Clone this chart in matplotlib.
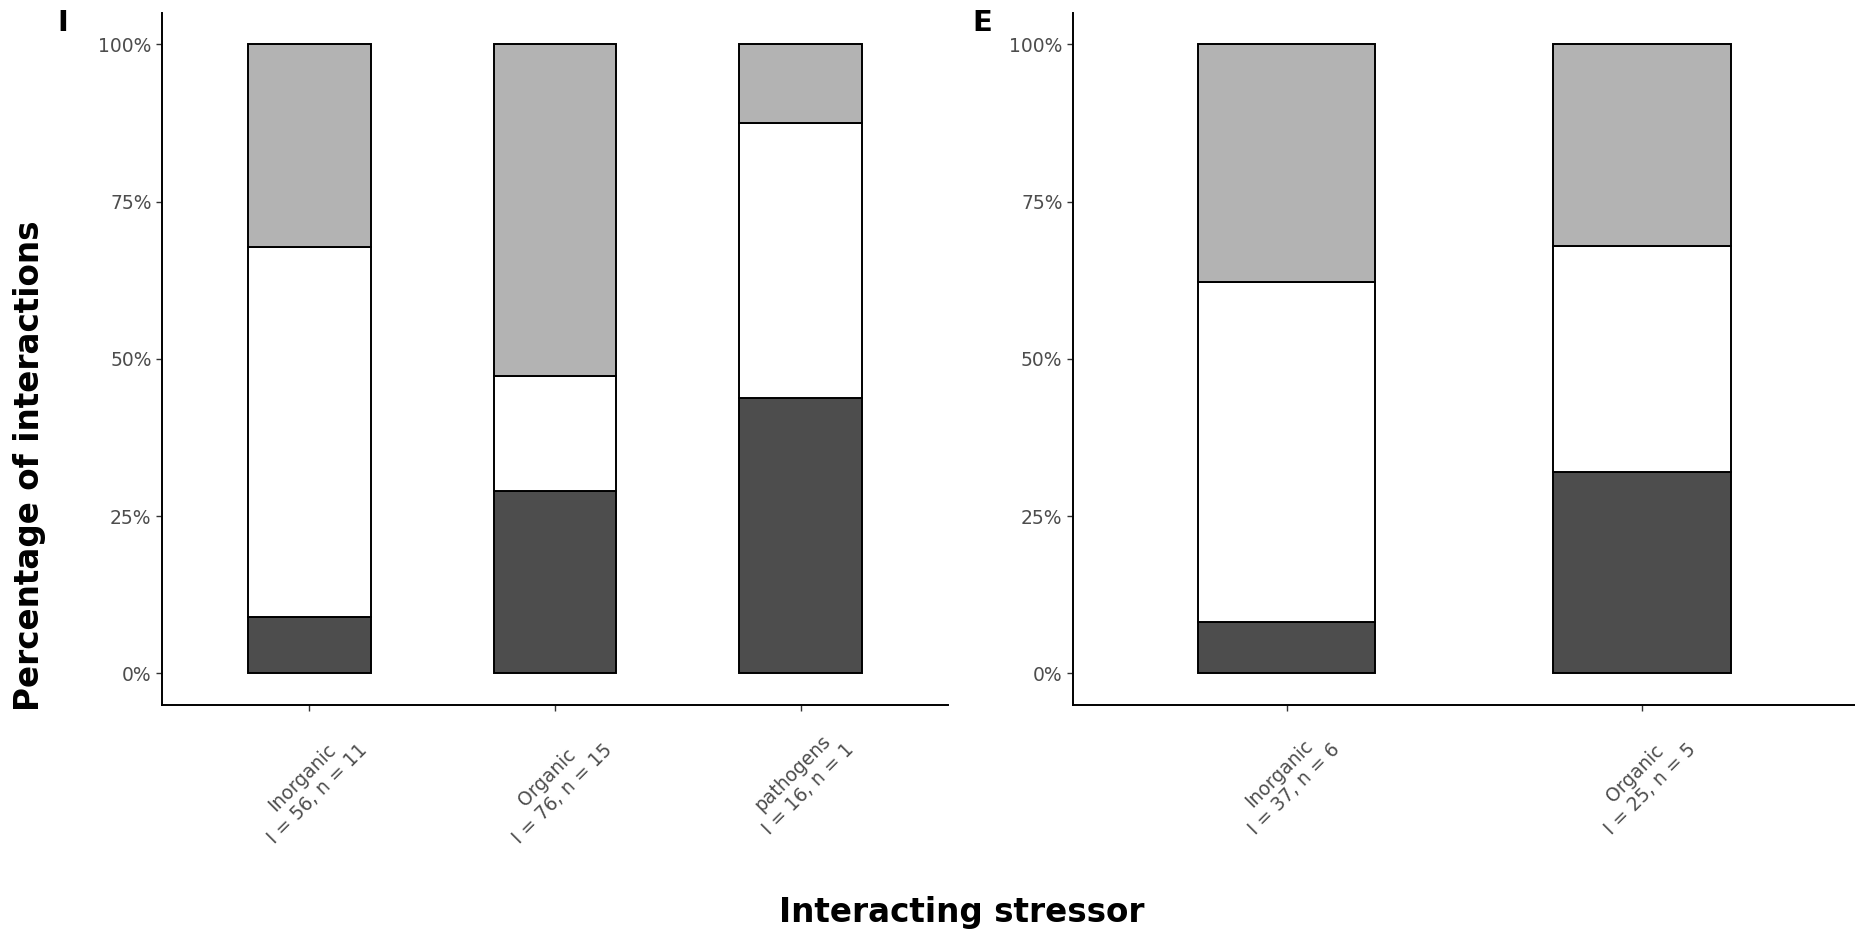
import numpy as np
import matplotlib
matplotlib.use('Agg')
import matplotlib.pyplot as plt
from matplotlib.ticker import PercentFormatter

# Interaction counts per stressor (dark / white / grey segments, stacked bottom to top)
i_labels = ['Inorganic\nI = 56, n = 11', 'Organic\nI = 76, n = 15', 'pathogens\nI = 16, n = 1']
i_dark = np.array([5, 22, 7])
i_white = np.array([33, 14, 7])
i_grey = np.array([18, 40, 2])

e_labels = ['Inorganic\nI = 37, n = 6', 'Organic\nI = 25, n = 5']
e_dark = np.array([3, 8])
e_white = np.array([20, 9])
e_grey = np.array([14, 8])

fill_colors = ['#4d4d4d', '#ffffff', '#b3b3b3']

fig = plt.figure(figsize=(18.56, 9.31), dpi=100)
ax1 = fig.add_axes([0.0873, 0.2428, 0.4235, 0.7433])
ax2 = fig.add_axes([0.5781, 0.2428, 0.4219, 0.7433])


def stacked(ax, labels, dark, white, grey):
    total = dark + white + grey
    x = np.arange(1, len(labels) + 1)
    bottom = np.zeros(len(labels))
    for seg, col in zip([dark, white, grey], fill_colors):
        frac = seg / total
        ax.bar(x, frac, width=0.5, bottom=bottom, color=col,
               edgecolor='black', linewidth=1.4, zorder=2)
        bottom += frac
    ax.set_xlim(0.4, len(labels) + 0.6)
    ax.set_ylim(-0.05, 1.05)
    ax.set_yticks([0, 0.25, 0.5, 0.75, 1.0])
    ax.yaxis.set_major_formatter(PercentFormatter(1.0, decimals=0))
    ax.set_xticks(x)
    ax.set_xticklabels(labels, rotation=45, ha='center', va='top',
                       multialignment='center')
    for s in ['top', 'right']:
        ax.spines[s].set_visible(False)
    for s in ['left', 'bottom']:
        ax.spines[s].set_linewidth(1.4)
    ax.tick_params(axis='both', length=4, width=1.0, color='#333333',
                   labelcolor='#4d4d4d', labelsize=13.5)
    ax.tick_params(axis='x', pad=10)


stacked(ax1, i_labels, i_dark, i_white, i_grey)
stacked(ax2, e_labels, e_dark, e_white, e_grey)

fig.text(0.031, 0.990, 'I', fontsize=21, fontweight='bold', ha='left', va='top')
fig.text(0.524, 0.990, 'E', fontsize=21, fontweight='bold', ha='left', va='top')

fig.text(0.016, 0.50, 'Percentage of interactions', rotation=90, fontsize=23.5,
         fontweight='bold', ha='center', va='center')
fig.text(0.518, 0.020, 'Interacting stressor', fontsize=23.5,
         fontweight='bold', ha='center', va='center')

fig.savefig('out.png', dpi=100)
